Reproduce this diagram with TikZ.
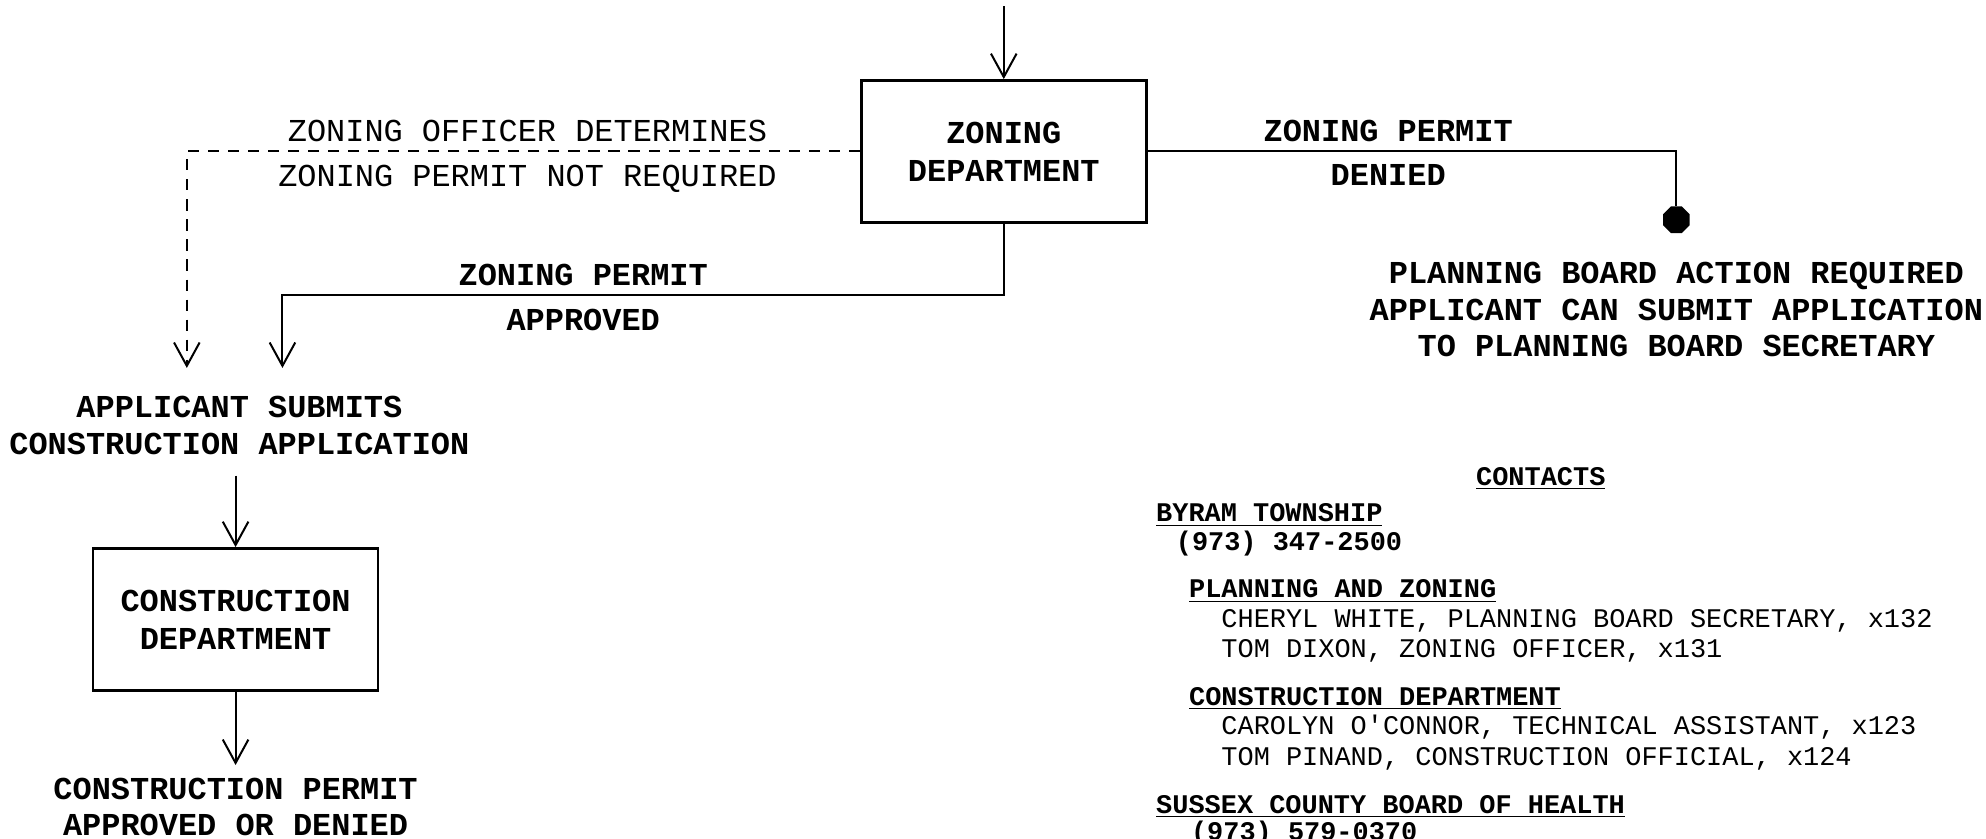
\documentclass[tikz,border=0pt]{standalone}
\usepackage{fontspec}
\setmonofont{Liberation Mono}
\usepackage{tikz}
\usetikzlibrary{shapes,arrows.meta,positioning}
\tikzstyle{blockWH} = [rectangle, draw, line width=1.2pt, align=center, minimum width=4.5cm, minimum height=2.24cm, inner sep=0pt, font=\ttfamily\bfseries\fontsize{14.35pt}{17.1pt}\selectfont]
\tikzstyle{textBD} = [align=center, inner sep=0pt, text depth=0pt, font=\ttfamily\bfseries\fontsize{14.35pt}{16.45pt}\selectfont]
\tikzstyle{textRG} = [textBD, font=\ttfamily\mdseries\fontsize{14.35pt}{16.45pt}\selectfont]
\tikzstyle{contBD} = [anchor=base west, inner sep=0pt, font=\ttfamily\bfseries\fontsize{12.1pt}{14pt}\selectfont]
\tikzstyle{contRG} = [contBD, font=\ttfamily\mdseries\fontsize{12.1pt}{14pt}\selectfont]
\tikzstyle{stopBL} = [regular polygon, regular polygon sides=8, fill=black, minimum size=0.455cm, inner sep=0pt]
\tikzstyle{line} = [draw, line width=0.9pt, -{Straight Barb[length=10.5pt,width=11.5pt]}]
\tikzstyle{lineDS} = [line, dash pattern=on 5pt off 4pt]
\tikzstyle{lineNA} = [draw, line width=0.9pt]

\begin{document}
\begin{tikzpicture}
  \useasboundingbox (0,0) rectangle (31.36,-13.24);
  \clip (0,0) rectangle (31.36,-13.24);

  % nodes
  \node [blockWH] (zoning_dep) at (15.85,-2.39) {ZONING\\DEPARTMENT};
  \coordinate [above of=zoning_dep, node distance=2.29cm] (top_in);
  \node [stopBL, right of=zoning_dep, node distance=10.62cm, yshift=-1.08cm] (stop_dot) {};
  \node [textBD, below of=stop_dot, node distance=1.416cm] (plan_req) {PLANNING BOARD ACTION REQUIRED\\APPLICANT CAN SUBMIT APPLICATION\\TO PLANNING BOARD SECRETARY};
  \node [textBD, below of=zoning_dep, node distance=4.33cm, xshift=-12.07cm] (apl_sub) {APPLICANT SUBMITS\\CONSTRUCTION APPLICATION};
  \node [blockWH, below of=apl_sub, node distance=3.06cm, xshift=-0.06cm] (const_dep) {CONSTRUCTION\\DEPARTMENT};
  \coordinate [above of=const_dep, node distance=2.27cm] (apl_out);
  \coordinate [below of=const_dep, node distance=2.30cm] (cp_in);
  \node [textBD, below of=const_dep, node distance=2.96cm] (cp_res) {CONSTRUCTION PERMIT\\APPROVED OR DENIED};
  \coordinate (nreq_end) at (2.95,-5.81);
  \coordinate (apr_end) at (4.46,-5.81);

  % edges
  \path [line] (top_in) -- (zoning_dep);
  \path [lineNA] (zoning_dep.east) -| node[textBD, pos=0.2275, yshift=9.2pt] (den_up) {ZONING PERMIT} node[textBD, pos=0.2275, yshift=-10.8pt] (den_dn) {DENIED} (stop_dot.north);
  \path [lineDS] (zoning_dep.west) -| node[textRG, pos=0.247, yshift=9.2pt] (nreq_up) {ZONING OFFICER DETERMINES} node[textRG, pos=0.247, yshift=-10.8pt] (nreq_dn) {ZONING PERMIT NOT REQUIRED} (nreq_end);
  \path [line] (zoning_dep.south) -- ++(0,-1.13) -| node[textBD, pos=0.2915, yshift=9pt] (apr_up) {ZONING PERMIT} node[textBD, pos=0.2915, yshift=-11pt] (apr_dn) {APPROVED} (apr_end);
  \path [line] (apl_out) -- (const_dep);
  \path [line] (const_dep) -- (cp_in);

  % contacts
  \node [contBD, anchor=base] (cont_tit) at (24.33,-7.66) {\underline{CONTACTS}};
  \node [contBD] (byram) at (18.25,-8.24) {\underline{BYRAM TOWNSHIP}};
  \node [contBD] (byram_tel) at (18.56,-8.70) {(973) 347-2500};
  \node [contBD] (plan_zon) at (18.77,-9.44) {\underline{PLANNING AND ZONING}};
  \node [contRG] (white) at (19.28,-9.91) {CHERYL WHITE, PLANNING BOARD SECRETARY, x132};
  \node [contRG] (dixon) at (19.28,-10.38) {TOM DIXON, ZONING OFFICER, x131};
  \node [contBD] (const_tit) at (18.77,-11.14) {\underline{CONSTRUCTION DEPARTMENT}};
  \node [contRG] (oconnor) at (19.28,-11.59) {CAROLYN O'CONNOR, TECHNICAL ASSISTANT, x123};
  \node [contRG] (pinand) at (19.28,-12.08) {TOM PINAND, CONSTRUCTION OFFICIAL, x124};
  \node [contBD] (sussex) at (18.25,-12.84) {\underline{SUSSEX COUNTY BOARD OF HEALTH}};
  \node [contBD] (sussex_tel) at (18.80,-13.27) {(973) 579-0370};
\end{tikzpicture}
\end{document}
